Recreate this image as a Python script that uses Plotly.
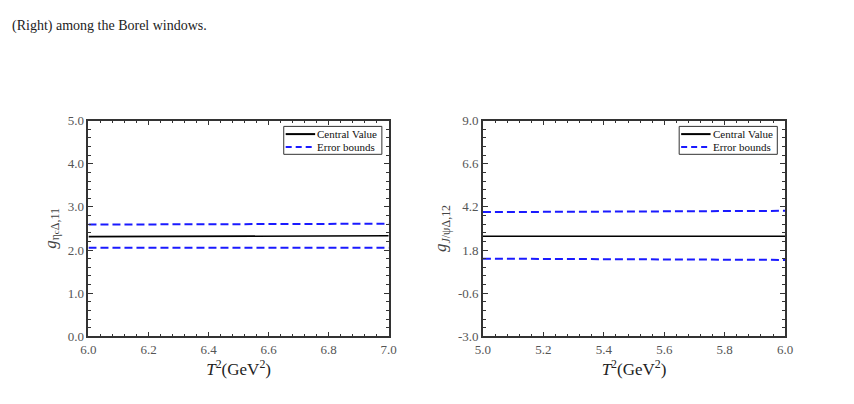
import plotly.graph_objects as go

# Left panel data
x_left = [6.0, 6.5, 7.0]
central_left = [2.31, 2.32, 2.33]
upper_left = [2.59, 2.60, 2.61]
lower_left = [2.05, 2.05, 2.05]

# Right panel data
x_right = [5.0, 5.5, 6.0]
central_right = [2.57, 2.57, 2.57]
upper_right = [3.91, 3.95, 3.98]
lower_right = [1.32, 1.28, 1.25]

left_yticks = [0.0, 1.0, 2.0, 3.0, 4.0, 5.0]
right_yticks = [-3.0, -0.6, 1.8, 4.2, 6.6, 9.0]
left_xticks = [6.0, 6.2, 6.4, 6.6, 6.8, 7.0]
right_xticks = [5.0, 5.2, 5.4, 5.6, 5.8, 6.0]
legend_labels = ["Central Value", "Error bounds"]

SERIF = "Liberation Serif"
BLUE = "#1a1aff"
DASH = "8px,4px"

fig = go.Figure()

def add_panel(xs, c, u, l, xa, ya):
    fig.add_trace(go.Scatter(x=xs, y=c, mode="lines", name=legend_labels[0],
                             line=dict(color="black", width=1.6),
                             xaxis=xa, yaxis=ya, showlegend=False))
    fig.add_trace(go.Scatter(x=xs, y=u, mode="lines", name=legend_labels[1],
                             line=dict(color=BLUE, width=2, dash=DASH),
                             xaxis=xa, yaxis=ya, showlegend=False))
    fig.add_trace(go.Scatter(x=xs, y=l, mode="lines", name=legend_labels[1],
                             line=dict(color=BLUE, width=2, dash=DASH),
                             xaxis=xa, yaxis=ya, showlegend=False))

add_panel(x_left, central_left, upper_left, lower_left, "x", "y")
add_panel(x_right, central_right, upper_right, lower_right, "x2", "y2")

W, H = 854, 404
def fx(px): return px / W
def fy(py): return (H - py) / H

axis_common = dict(showline=True, linecolor="#333", linewidth=1.5, mirror="ticks",
                   ticks="inside", ticklen=5, tickcolor="#333", tickwidth=1,
                   showgrid=False, zeroline=False,
                   tickfont=dict(family=SERIF, size=13, color="#555"))

def xaxis(rng, ticks, dom, anchor):
    return dict(axis_common, range=rng, domain=dom, anchor=anchor,
                tickvals=ticks, ticktext=[f"{t:.1f}" for t in ticks],
                minor=dict(dtick=0.04, tick0=rng[0], ticks="inside", ticklen=3,
                           tickcolor="#333", showgrid=False),
                title=dict(text="<i>T</i><sup>2</sup>(GeV<sup>2</sup>)",
                           font=dict(family=SERIF, size=17, color="#222"), standoff=0))

def yaxis(rng, ticks, dom, anchor, mdt, title):
    return dict(axis_common, range=rng, domain=dom, anchor=anchor,
                tickvals=ticks, ticktext=[f"{t:.1f}" for t in ticks],
                minor=dict(dtick=mdt, tick0=rng[0], ticks="inside", ticklen=3,
                           tickcolor="#333", showgrid=False),
                title=dict(text=title, font=dict(family=SERIF, size=17, color="#444"), standoff=7))

ydom = [fy(342), fy(118)]

shapes = []
annotations = []

def add_legend(x0, x1, y0, y1):
    shapes.append(dict(type="rect", xref="paper", yref="paper",
                       x0=fx(x0), x1=fx(x1), y0=fy(y1), y1=fy(y0),
                       line=dict(color="#333", width=1), fillcolor="white", layer="above"))
    rows = [(y0 + 8, dict(color="black", width=2), legend_labels[0]),
            (y0 + 21.5, dict(color=BLUE, width=2, dash="6px,4px"), legend_labels[1])]
    for yy, ln, txt in rows:
        shapes.append(dict(type="line", xref="paper", yref="paper",
                           x0=fx(x0 + 2), x1=fx(x0 + 32), y0=fy(yy), y1=fy(yy),
                           line=ln, layer="above"))
        annotations.append(dict(text=txt, x=fx(x0 + 32), y=fy(yy), xref="paper", yref="paper",
                                xanchor="left", yanchor="middle", showarrow=False,
                                font=dict(family=SERIF, size=11, color="#111")))

add_legend(281, 381, 124, 153)
add_legend(684, 784, 124, 153)

annotations.append(dict(text="(Right) among the Borel windows.", x=fx(2), y=fy(20),
                        xref="paper", yref="paper", xanchor="left", yanchor="middle",
                        showarrow=False, font=dict(family=SERIF, size=14, color="#222")))

fig.update_layout(
    width=W, height=H, margin=dict(l=0, r=0, t=0, b=0),
    plot_bgcolor="white", paper_bgcolor="white", showlegend=False,
    xaxis=xaxis([6.0, 7.0], left_xticks, [fx(82), fx(388)], "y"),
    yaxis=yaxis([0.0, 5.0], left_yticks, ydom, "x", 0.2,
                "<i>g</i><sub>η<span style='font-size:9px'>c</span>Δ,11</sub>"),
    xaxis2=xaxis([5.0, 6.0], right_xticks, [fx(484), fx(792)], "y2"),
    yaxis2=yaxis([-3.0, 9.0], right_yticks, ydom, "x2", 0.48,
                 "<i>g</i><sub><i>J</i>/ψΔ,12</sub>"),
    shapes=shapes,
    annotations=annotations,
)

fig.write_html("out.html")
